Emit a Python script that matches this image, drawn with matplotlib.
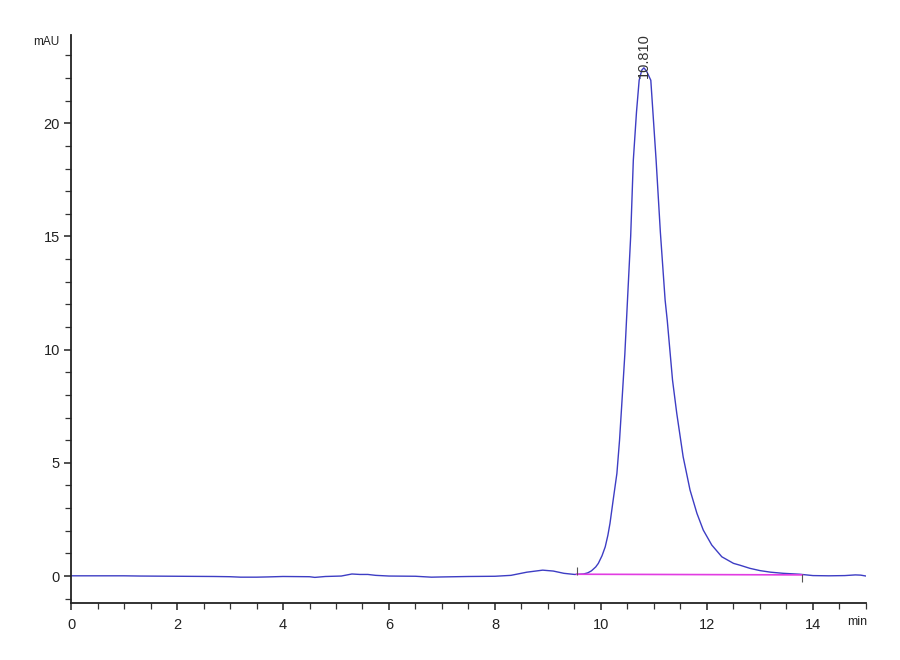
import matplotlib
matplotlib.use('Agg')
import matplotlib.pyplot as plt
from matplotlib.ticker import MultipleLocator

# chromatogram trace (time in min, signal in mAU)
time_min = [0.0, 0.5, 1.0, 1.3, 2.0, 2.7, 3.0, 3.2, 3.5, 3.7, 4.0, 4.5, 4.6, 4.8,
            5.1, 5.3, 5.45, 5.6, 5.75, 6.0, 6.5, 6.8, 7.0, 7.5, 8.0, 8.3, 8.6, 8.9,
            9.1, 9.3, 9.5, 9.6, 9.67, 9.75, 9.82, 9.9, 9.95, 10.02, 10.08, 10.13,
            10.17, 10.23, 10.30, 10.35, 10.39, 10.45, 10.50, 10.56, 10.61, 10.67,
            10.72, 10.77, 10.81, 10.86, 10.94, 11.04, 11.12, 11.21, 11.25, 11.35,
            11.43, 11.55, 11.68, 11.81, 11.93, 12.09, 12.28, 12.5, 12.62, 12.81,
            13.0, 13.2, 13.44, 13.75, 14.0, 14.3, 14.6, 14.8, 14.9, 15.0]
signal_mau = [0.01, 0.01, 0.01, 0.0, -0.01, -0.02, -0.03, -0.05, -0.05, -0.04, -0.02,
              -0.03, -0.06, -0.02, 0.0, 0.09, 0.07, 0.07, 0.03, 0.0, -0.01, -0.05,
              -0.04, -0.02, -0.01, 0.03, 0.17, 0.26, 0.22, 0.12, 0.07, 0.08, 0.09,
              0.14, 0.23, 0.4, 0.56, 0.9, 1.29, 1.8, 2.33, 3.36, 4.53, 6.0, 7.5, 9.8,
              12.19, 15.0, 18.37, 20.5, 21.9, 22.35, 22.45, 22.3, 21.9, 18.37, 15.2,
              12.19, 11.3, 8.65, 7.18, 5.27, 3.80, 2.77, 2.03, 1.37, 0.85, 0.56, 0.48,
              0.34, 0.24, 0.17, 0.12, 0.08, 0.02, 0.01, 0.02, 0.05, 0.04, 0.0]

# integration baseline of the main peak
base_t = [9.54, 13.80]
base_y = [0.08, 0.05]

peak_rt = 10.810
peak_h = 22.45

fnt = ['Liberation Sans Narrow', 'Liberation Sans', 'DejaVu Sans']

fig = plt.figure(figsize=(9, 6.6), dpi=100)
ax = fig.add_axes([0.0789, 0.0864, 0.8833, 0.8606])

ax.plot(time_min, signal_mau, color='#3d3dc4', lw=1.0)
ax.plot(base_t, base_y, color='#e23ce2', lw=1.2)
# start / end markers of the integration
ax.plot(base_t[0], base_y[0] + 0.15, marker='|', color='#555555', ms=6, mew=0.8)
ax.plot(base_t[1], base_y[1] - 0.15, marker='|', color='#555555', ms=6, mew=0.8)

ax.annotate(f'{peak_rt:.3f}', xy=(peak_rt, peak_h), xytext=(0, -7),
            textcoords='offset points', rotation=90, ha='center', va='bottom',
            fontsize=10.5, color='#333333', family=fnt)

ax.set_xlim(0, 15)
ax.set_ylim(-1.19, 23.9)

ax.xaxis.set_major_locator(MultipleLocator(2))
ax.xaxis.set_minor_locator(MultipleLocator(0.5))
ax.yaxis.set_major_locator(MultipleLocator(5))
ax.yaxis.set_minor_locator(MultipleLocator(1))

for s in ['top', 'right']:
    ax.spines[s].set_visible(False)
for s in ['left', 'bottom']:
    ax.spines[s].set_linewidth(1.3)
    ax.spines[s].set_color('#222222')

ax.tick_params(which='major', direction='out', length=5, width=1.1, colors='#222222',
               labelsize=10.5, pad=3)
ax.tick_params(which='minor', direction='out', length=4, width=0.9, colors='#333333')
ax.tick_params(axis='x', which='major', pad=6)
for lab in ax.get_xticklabels() + ax.get_yticklabels():
    lab.set_family(fnt)

fig.text(0.066, 0.936, 'mAU', ha='right', va='center', fontsize=8.5, family=fnt,
         color='#222222')
fig.text(0.953, 0.057, 'min', ha='center', va='center', fontsize=9, family=fnt,
         color='#222222')

fig.savefig('out.png', dpi=100, facecolor='white')
